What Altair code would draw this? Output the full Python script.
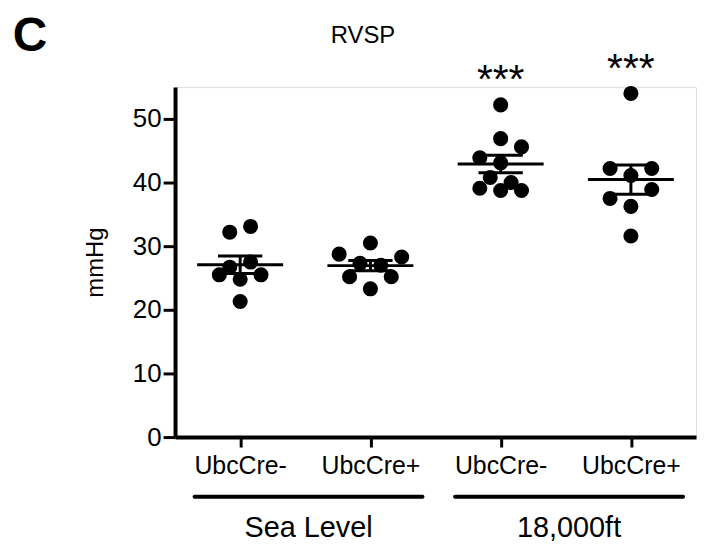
import altair as alt
import pandas as pd

# ---- data ----
genotypes = ["UbcCre-", "UbcCre+", "UbcCre-", "UbcCre+"]
conditions = ["Sea Level", "18,000ft"]
condition_of_group = [0, 0, 1, 1]
stars = ["", "", "***", "***"]

sl_neg = [32.2, 33.1, 26.7, 27.5, 25.5, 24.8, 25.5, 21.3]
sl_pos = [30.5, 28.75, 28.3, 27.3, 27.0, 25.2, 25.2, 23.3]
ha_neg = [52.2, 46.9, 45.6, 43.9, 43.1, 40.8, 40.0, 39.1, 38.75, 38.75]
ha_pos = [54.0, 42.2, 42.2, 41.1, 38.9, 37.5, 36.25, 31.6]

# scatter column slot of each dot (GraphPad-style layout)
sl_neg_slot = [-1, 1, -1, 1, -2, 0, 2, 0]
sl_pos_slot = [0, -3, 3, -1, 1, -2, 2, 0]
ha_neg_slot = [0, 0, 2, -2, 0, -1, 1, -2, 0, 2]
ha_pos_slot = [0, -2, 2, 0, 2, -2, 0, 0]

y_ticks = [0, 10, 20, 30, 40, 50]

series = [sl_neg, sl_pos, ha_neg, ha_pos]
slots = [sl_neg_slot, sl_pos_slot, ha_neg_slot, ha_pos_slot]
rows = []
for gi, (vals, sl) in enumerate(zip(series, slots)):
    for v, s in zip(vals, sl):
        rows.append({"g": gi, "value": v, "slot": s})
df = pd.DataFrame(rows)

star_df = pd.DataFrame({
    "g": list(range(len(stars))),
    "star": stars,
    "vmax": [max(s) for s in series],
})
star_df = star_df[star_df["star"] != ""]

cond_rows = []
for ci, name in enumerate(conditions):
    members = [i for i, c in enumerate(condition_of_group) if c == ci]
    cond_rows.append({"cond": name, "first": min(members), "last": max(members)})
cdf = pd.DataFrame(cond_rows)

FONT = "Liberation Sans"
W, H = 524, 352

xscale = alt.Scale(domain=[-0.5, 3.5], nice=False, zero=False)
yscale = alt.Scale(domain=[0, 55], nice=False)
label_js = "[" + ",".join("'%s'" % g for g in genotypes) + "][datum.value]"

base = alt.Chart(df)

points = base.transform_calculate(
    xp="datum.g + datum.slot * 0.08"
).mark_circle(size=230, color="black", opacity=1).encode(
    x=alt.X("xp:Q", scale=xscale, axis=alt.Axis(
        values=[0, 1, 2, 3], labelExpr=label_js, title=None, grid=False,
        domainColor="black", domainWidth=4, tickColor="black", tickWidth=3,
        tickSize=10, labelFont=FONT, labelFontSize=25, labelColor="black",
        labelPadding=7)),
    y=alt.Y("value:Q", scale=yscale, axis=alt.Axis(
        values=y_ticks, title="mmHg", grid=False, domainColor="black",
        domainWidth=4, tickColor="black", tickWidth=3, tickSize=12,
        labelFont=FONT, labelFontSize=26, labelColor="black", labelPadding=2,
        titleFont=FONT, titleFontSize=24, titleFontWeight="normal",
        titleColor="black", titlePadding=25)),
)

stats = base.transform_aggregate(
    mean="mean(value)", sem="stderr(value)", groupby=["g"]
).transform_calculate(
    lo="datum.mean - datum.sem", hi="datum.mean + datum.sem",
    mx0="datum.g - 0.33", mx1="datum.g + 0.33",
    cx0="datum.g - 0.17", cx1="datum.g + 0.17",
)

mean_line = stats.mark_rule(color="black", strokeWidth=3).encode(
    x=alt.X("mx0:Q", scale=xscale), x2="mx1:Q", y=alt.Y("mean:Q", scale=yscale))
sem_v = stats.mark_rule(color="black", strokeWidth=3).encode(
    x=alt.X("g:Q", scale=xscale), y=alt.Y("lo:Q", scale=yscale), y2="hi:Q")
cap_hi = stats.mark_rule(color="black", strokeWidth=3).encode(
    x=alt.X("cx0:Q", scale=xscale), x2="cx1:Q", y=alt.Y("hi:Q", scale=yscale))
cap_lo = stats.mark_rule(color="black", strokeWidth=3).encode(
    x=alt.X("cx0:Q", scale=xscale), x2="cx1:Q", y=alt.Y("lo:Q", scale=yscale))

star_text = alt.Chart(star_df).mark_text(
    font=FONT, fontSize=41, color="black", baseline="alphabetic", dy=-12).encode(
    x=alt.X("g:Q", scale=xscale), y=alt.Y("vmax:Q", scale=yscale),
    text="star:N")

cbase = alt.Chart(cdf).transform_calculate(
    x0="datum.first - 0.35", x1="datum.last + 0.4",
    xm="(datum.first + datum.last) / 2 + 0.025")
cond_rule = cbase.mark_rule(color="black", strokeWidth=4, strokeCap="round").encode(
    x=alt.X("x0:Q", scale=xscale), x2="x1:Q", y=alt.value(H + 60))
cond_text = cbase.mark_text(font=FONT, fontSize=29, color="black",
                            baseline="middle").encode(
    x=alt.X("xm:Q", scale=xscale), y=alt.value(H + 92), text="cond:N")

title_text = alt.Chart(pd.DataFrame({"t": ["RVSP"]})).mark_text(
    font=FONT, fontSize=24, color="black", baseline="middle").encode(
    x=alt.value(189), y=alt.value(-51), text="t:N")
panel_text = alt.Chart(pd.DataFrame({"t": ["C"]})).mark_text(
    font=FONT, fontSize=48, fontWeight="bold", color="black",
    baseline="middle").encode(
    x=alt.value(-146), y=alt.value(-50), text="t:N")

chart = alt.layer(
    points, mean_line, sem_v, cap_hi, cap_lo, star_text,
    cond_rule, cond_text, title_text, panel_text
).properties(
    width=W, height=H,
    autosize=alt.AutoSizeParams(type="none"),
    padding={"left": 168, "top": 78, "right": 5, "bottom": 105},
).configure_view(stroke=None).configure(background="white")

chart.save("out.html", embed_options={"renderer": "svg", "actions": False})
